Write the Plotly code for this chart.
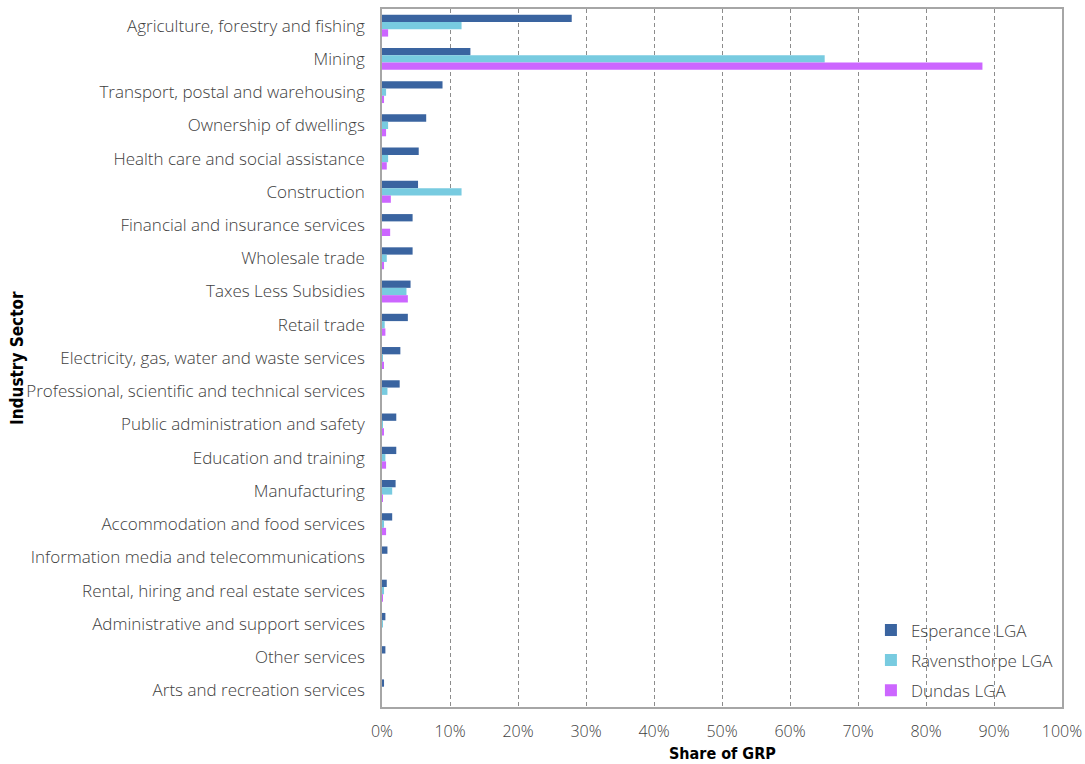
import plotly.graph_objects as go

categories = [
    "Agriculture, forestry and fishing",
    "Mining",
    "Transport, postal and warehousing",
    "Ownership of dwellings",
    "Health care and social assistance",
    "Construction",
    "Financial and insurance services",
    "Wholesale trade",
    "Taxes Less Subsidies",
    "Retail trade",
    "Electricity, gas, water and waste services",
    "Professional, scientific and technical services",
    "Public administration and safety",
    "Education and training",
    "Manufacturing",
    "Accommodation and food services",
    "Information media and telecommunications",
    "Rental, hiring and real estate services",
    "Administrative and support services",
    "Other services",
    "Arts and recreation services",
]

esperance = [27.9, 13.0, 8.9, 6.5, 5.4, 5.3, 4.5, 4.5, 4.2, 3.8, 2.7, 2.6, 2.1, 2.1, 2.0, 1.5, 0.8, 0.7, 0.5, 0.5, 0.3]
ravensthorpe = [11.7, 65.1, 0.6, 0.9, 0.9, 11.7, 0.0, 0.7, 3.6, 0.4, 0.05, 0.8, 0.1, 0.5, 1.5, 0.3, 0.0, 0.3, 0.1, 0.0, 0.0]
dundas = [0.9, 88.3, 0.3, 0.6, 0.7, 1.3, 1.2, 0.3, 3.8, 0.5, 0.2, 0.0, 0.2, 0.6, 0.1, 0.6, 0.0, 0.1, 0.0, 0.0, 0.0]

series = [
    ("Esperance LGA", esperance, "#3A64A0"),
    ("Ravensthorpe LGA", ravensthorpe, "#78CBE0"),
    ("Dundas LGA", dundas, "#CC66FF"),
]

x_ticks = [0, 10, 20, 30, 40, 50, 60, 70, 80, 90, 100]
x_tick_labels = [f"{v}%" for v in x_ticks]

FONT = "Open Sans, Lato, sans-serif"
TITLE_FONT = "DejaVu Sans Condensed, DejaVu Sans, sans-serif"
TEXT = "#404040"

fig = go.Figure()
for name, vals, color in series:
    fig.add_trace(go.Bar(
        y=categories, x=vals, name=name, orientation="h", legendgroup=name,
        marker=dict(color=color, line=dict(width=0)),
    ))

fig.update_layout(
    width=1085, height=764,
    margin=dict(l=382, r=23, t=9, b=57),
    paper_bgcolor="white", plot_bgcolor="white",
    barmode="group", bargap=0.34, bargroupgap=0,
    font=dict(family=FONT, size=17, color=TEXT, weight=300),
    showlegend=True,
    legend=dict(
        x=0.719, y=-0.002, xanchor="left", yanchor="bottom",
        bgcolor="rgba(255,255,255,0)", font=dict(size=17, color=TEXT, weight=300),
        traceorder="grouped", tracegroupgap=5,
    ),
    xaxis=dict(
        range=[0, 100], tickvals=x_ticks, ticktext=x_tick_labels,
        showgrid=True, gridcolor="#8C8C8C", griddash="4px,3px", gridwidth=1,
        showline=True, linecolor="#A6A6A6", linewidth=1.5, mirror=True,
        zeroline=False, ticks="", ticklabelstandoff=9, ticklabeloverflow="allow",
        tickfont=dict(size=16, color=TEXT, weight=300), fixedrange=True,
        automargin=False,
    ),
    yaxis=dict(
        categoryorder="array", categoryarray=categories, autorange="reversed",
        showgrid=False, showline=True, linecolor="#A6A6A6", linewidth=1.5, mirror=True,
        ticks="", ticklabelstandoff=12, tickfont=dict(size=17, color=TEXT, weight=300),
        automargin=False,
    ),
    annotations=[
        dict(text="<b>Share of GRP</b>", x=0.5, y=0, xref="paper", yref="paper",
             xanchor="center", yanchor="top", yshift=-35, showarrow=False,
             font=dict(family=TITLE_FONT, size=16, color="#000000")),
        dict(text="<b>Industry Sector</b>", x=0, y=0.5, xref="paper", yref="paper",
             xanchor="center", yanchor="middle", xshift=-365, textangle=-90, showarrow=False,
             font=dict(family=TITLE_FONT, size=17, color="#000000")),
    ],
)

fig.write_html("out.html", config={"displayModeBar": False},
               post_script="document.body.style.margin='0';")
